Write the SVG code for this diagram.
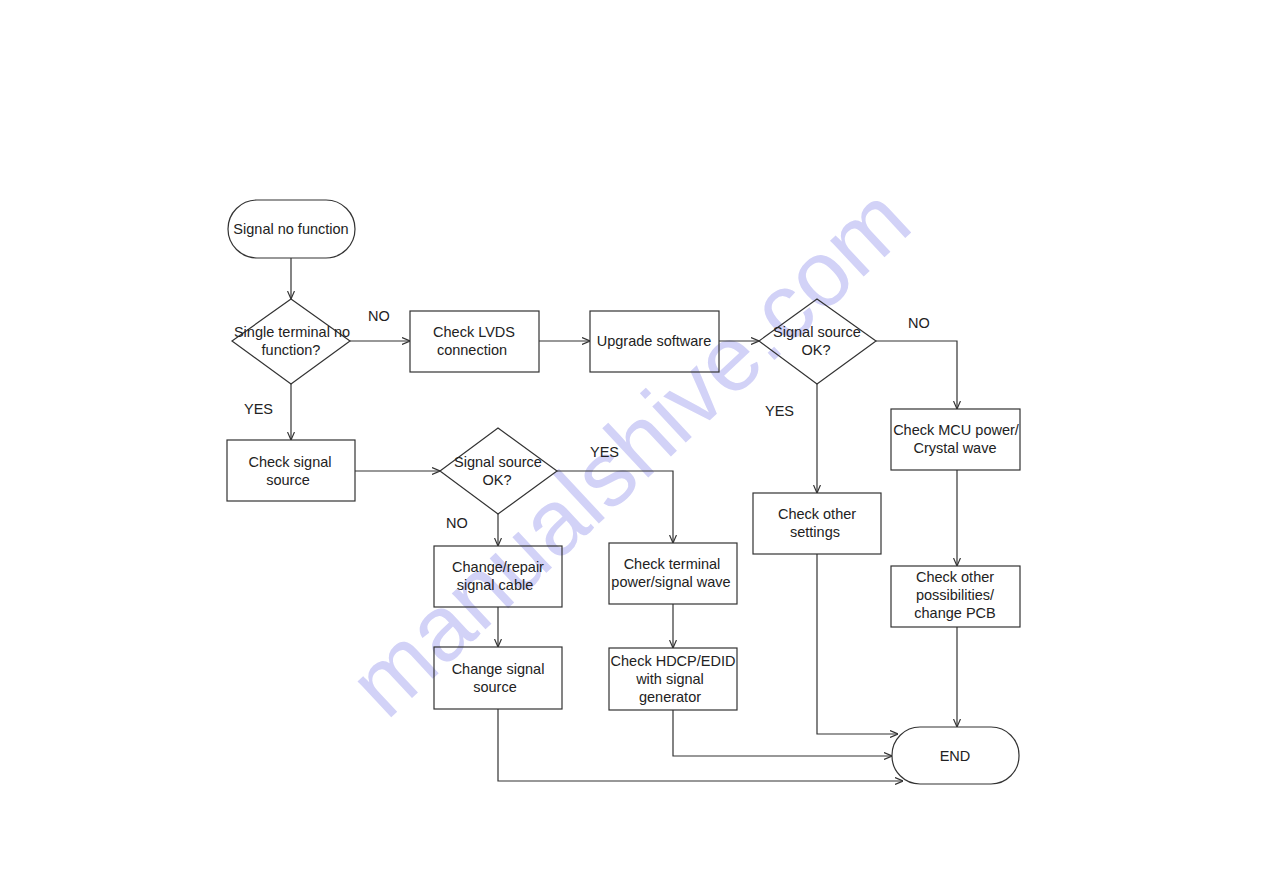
<svg xmlns="http://www.w3.org/2000/svg" width="1263" height="893" viewBox="0 0 1263 893">
<style>
.n{fill:none;stroke:#333;stroke-width:1.2}
.t{font-family:"Liberation Sans",Arial,sans-serif;font-size:14.5px;fill:#222;text-anchor:middle}
.l{font-family:"Liberation Sans",Arial,sans-serif;font-size:14.5px;fill:#222}
.c{fill:none;stroke:#333;stroke-width:1.2}
.wm{font-family:"Liberation Sans",Arial,sans-serif;font-size:93px;fill:#d2d2f7;text-anchor:middle}
</style>
<defs>
<marker id="ah" viewBox="0 0 8 8" refX="8" refY="4" markerWidth="8" markerHeight="8" markerUnits="userSpaceOnUse" orient="auto">
<path d="M0,0.5 L8,4 L0,7.5" fill="none" stroke="#333" stroke-width="1.2"/>
</marker>
</defs>
<rect width="1263" height="893" fill="#fff"/>
<text class="wm" transform="translate(651,475) rotate(-43)">manualshive.com</text>
<g id="connectors">
<path class="c" d="M291,258 V299" marker-end="url(#ah)"/>
<path class="c" d="M350,341 H410" marker-end="url(#ah)"/>
<path class="c" d="M539,341 H590" marker-end="url(#ah)"/>
<path class="c" d="M719,341 H759" marker-end="url(#ah)"/>
<path class="c" d="M876,341 H957 V409" marker-end="url(#ah)"/>
<path class="c" d="M817,384 V493" marker-end="url(#ah)"/>
<path class="c" d="M817,554 V734 H898" marker-end="url(#ah)"/>
<path class="c" d="M957,470 V566" marker-end="url(#ah)"/>
<path class="c" d="M957,627 V727" marker-end="url(#ah)"/>
<path class="c" d="M291,384 V440" marker-end="url(#ah)"/>
<path class="c" d="M355,471 H440" marker-end="url(#ah)"/>
<path class="c" d="M557,471 H673 V543" marker-end="url(#ah)"/>
<path class="c" d="M498,514 V546" marker-end="url(#ah)"/>
<path class="c" d="M498,607 V647" marker-end="url(#ah)"/>
<path class="c" d="M673,604 V648" marker-end="url(#ah)"/>
<path class="c" d="M673,710 V756 H892" marker-end="url(#ah)"/>
<path class="c" d="M498,709 V781 H903" marker-end="url(#ah)"/>
</g>
<g id="labels">
<text class="l" x="368" y="321">NO</text>
<text class="l" x="908" y="328">NO</text>
<text class="l" x="765" y="416">YES</text>
<text class="l" x="244" y="414">YES</text>
<text class="l" x="590" y="457">YES</text>
<text class="l" x="446" y="528">NO</text>
</g>
<g id="start">
<rect class="n" x="228" y="200" width="127" height="58" rx="29"/>
<text class="t" x="291" y="234">Signal no function</text>
</g>
<g id="d1">
<polygon class="n" points="291,299 350,341 291,384 232,341"/>
<text class="t" x="292" y="337">Single terminal no</text>
<text class="t" x="291" y="355">function?</text>
</g>
<g id="lvds">
<rect class="n" x="410" y="311" width="129" height="61"/>
<text class="t" x="474" y="337">Check LVDS</text>
<text class="t" x="472" y="355">connection</text>
</g>
<g id="upgrade">
<rect class="n" x="590" y="311" width="129" height="61"/>
<text class="t" x="654" y="346">Upgrade software</text>
</g>
<g id="d2">
<polygon class="n" points="817,299 876,341 817,384 759,341"/>
<text class="t" x="817" y="337">Signal source</text>
<text class="t" x="816" y="355">OK?</text>
</g>
<g id="mcu">
<rect class="n" x="891" y="409" width="129" height="61"/>
<text class="t" x="956" y="435">Check MCU power/</text>
<text class="t" x="955" y="453">Crystal wave</text>
</g>
<g id="other">
<rect class="n" x="753" y="493" width="128" height="61"/>
<text class="t" x="817" y="519">Check other</text>
<text class="t" x="815" y="537">settings</text>
</g>
<g id="pcb">
<rect class="n" x="891" y="566" width="129" height="61"/>
<text class="t" x="955" y="582">Check other</text>
<text class="t" x="955" y="600">possibilities/</text>
<text class="t" x="955" y="618">change PCB</text>
</g>
<g id="end">
<rect class="n" x="892" y="727" width="127" height="57" rx="28"/>
<text class="t" x="955" y="761">END</text>
</g>
<g id="checksrc">
<rect class="n" x="227" y="440" width="128" height="61"/>
<text class="t" x="290" y="467">Check signal</text>
<text class="t" x="288" y="485">source</text>
</g>
<g id="d3">
<polygon class="n" points="498,428 557,471 498,514 440,471"/>
<text class="t" x="498" y="467">Signal source</text>
<text class="t" x="497" y="485">OK?</text>
</g>
<g id="cable">
<rect class="n" x="434" y="546" width="128" height="61"/>
<text class="t" x="498" y="572">Change/repair</text>
<text class="t" x="495" y="590">signal cable</text>
</g>
<g id="chgsrc">
<rect class="n" x="434" y="647" width="128" height="62"/>
<text class="t" x="498" y="674">Change signal</text>
<text class="t" x="495" y="692">source</text>
</g>
<g id="terminal">
<rect class="n" x="609" y="543" width="128" height="61"/>
<text class="t" x="672" y="569">Check terminal</text>
<text class="t" x="671" y="587">power/signal wave</text>
</g>
<g id="hdcp">
<rect class="n" x="609" y="648" width="128" height="62"/>
<text class="t" x="673" y="666">Check HDCP/EDID</text>
<text class="t" x="670" y="684">with signal</text>
<text class="t" x="670" y="702">generator</text>
</g>
</svg>
